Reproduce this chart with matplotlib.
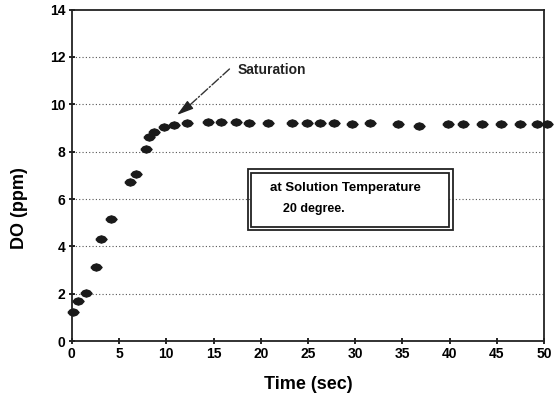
import matplotlib.pyplot as plt
from matplotlib.patches import Rectangle
from matplotlib.path import Path

# DO readings
time_sec = [0.1, 0.65, 1.55, 2.6, 3.1, 4.15, 6.15, 6.8, 7.8, 8.2, 8.7, 9.75, 10.8,
            12.2, 14.4, 15.75, 17.4, 18.8, 20.8, 23.3, 24.9, 26.3, 27.8, 29.7,
            31.6, 34.5, 36.8, 39.8, 41.4, 43.4, 45.4, 47.4, 49.2, 50.3]
do_ppm = [1.25, 1.71, 2.03, 3.12, 4.3, 5.16, 6.73, 7.06, 8.11, 8.61, 8.82, 9.05, 9.13,
          9.2, 9.24, 9.24, 9.24, 9.22, 9.21, 9.2, 9.2, 9.2, 9.2, 9.18,
          9.2, 9.17, 9.1, 9.15, 9.17, 9.17, 9.17, 9.17, 9.15, 9.15]

y_ticks = [0, 2, 4, 6, 8, 10, 12, 14]
x_ticks = [0, 5, 10, 15, 20, 25, 30, 35, 40, 45, 50]

plt.rcParams['font.family'] = 'Liberation Sans'
plt.rcParams['font.weight'] = 'bold'

fig = plt.figure(figsize=(5.57, 3.99), dpi=100)
ax = fig.add_axes([0.129, 0.145, 0.848, 0.831])

# horizontal ellipse-like diamond, like the scanned dots
blob = Path([(-1, 0), (-0.6, 0.45), (0, 0.65), (0.6, 0.45), (1, 0),
             (0.6, -0.45), (0, -0.65), (-0.6, -0.45), (-1, 0)])
ax.plot(time_sec, do_ppm, linestyle='none', marker=blob, markersize=8,
        color='#1a1a1a', clip_on=False, zorder=3)

for y in y_ticks[1:-1]:
    ax.axhline(y, color='#555555', linestyle=(0, (1, 2)), linewidth=0.8, zorder=1)

ax.set_xlim(0, 50)
ax.set_ylim(0, 14)
ax.set_xticks(x_ticks)
ax.set_yticks(y_ticks)
ax.tick_params(direction='inout', length=5, width=1.2, labelsize=10, pad=2)
for s in ax.spines.values():
    s.set_linewidth(1.3)
    s.set_color('#222222')

ax.set_xlabel('Time (sec)', fontsize=13, fontweight='bold')
ax.xaxis.set_label_coords(0.50, -0.105)
ax.set_ylabel('DO (ppm)', fontsize=13, fontweight='bold')
ax.yaxis.set_label_coords(-0.092, 0.40)

# saturation annotation
ax.annotate('', xy=(12.3, 9.9), xytext=(16.9, 11.57),
            arrowprops=dict(arrowstyle='-', linestyle='-.', lw=1, color='#333333'))
ax.annotate('', xy=(10.9, 9.48), xytext=(12.6, 10.0),
            arrowprops=dict(arrowstyle='-|>,head_length=1.0,head_width=0.3',
                            lw=1, color='#222222'))
ax.text(17.5, 11.45, 'Saturation', fontsize=10, va='center', ha='left', color='#222222')

# double-bordered note box
ax.add_patch(Rectangle((18.6, 4.7), 21.7, 2.55, fill=False, lw=1.3,
                       edgecolor='#222222', zorder=2))
ax.add_patch(Rectangle((18.95, 4.83), 21.0, 2.29, facecolor='white', lw=1.3,
                       edgecolor='#222222', zorder=2))
ax.text(21.0, 6.46, 'at Solution Temperature', fontsize=9.5, va='center', ha='left', zorder=4)
ax.text(22.3, 5.57, '20 degree.', fontsize=9, va='center', ha='left', zorder=4)

plt.savefig('out.png', dpi=100)
